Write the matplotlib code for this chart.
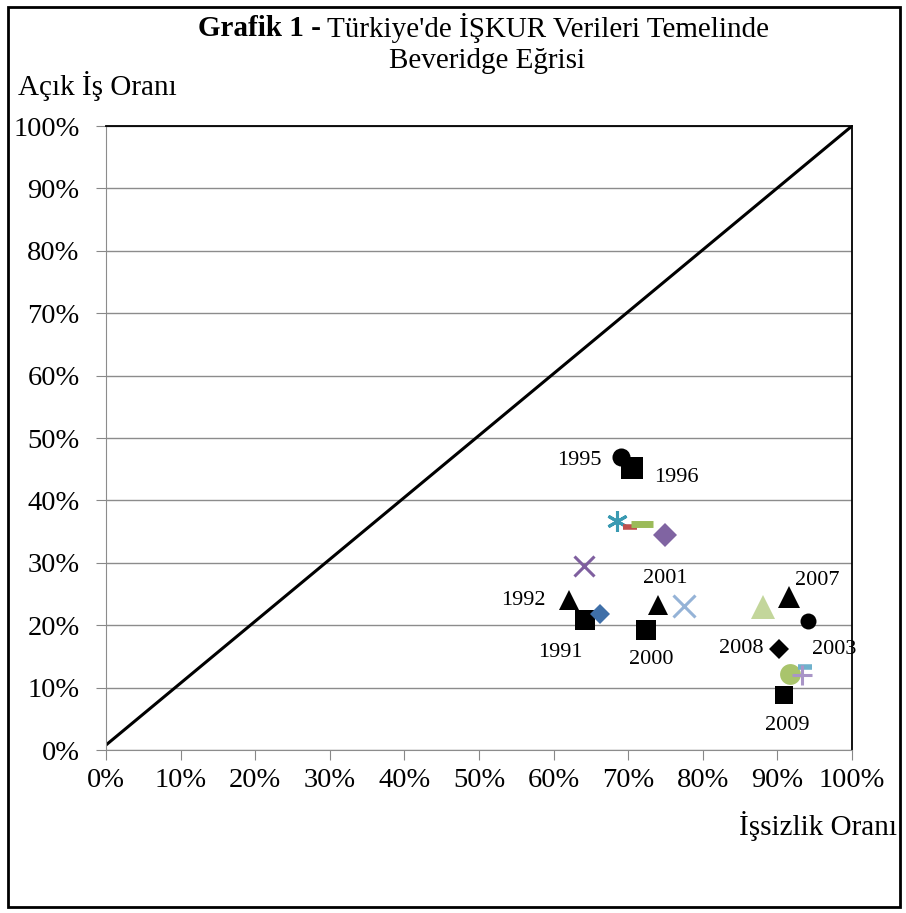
import matplotlib.pyplot as plt
from matplotlib.patches import Rectangle

plt.rcParams['font.family'] = ['Liberation Serif', 'DejaVu Serif']

# Data: unemployment rate (x, %), vacancy rate (y, %)
labels = ['1995', '1996', '', '', '', '', '', '1992', '1991', '', '2000', '2001',
          '', '', '2007', '2003', '2008', '', '', '', '2009']
unemp = [69.0, 70.5, 68.5, 70.2, 71.9, 74.9, 64.1, 62.1, 64.2, 66.2, 72.4, 74.0,
         77.5, 88.1, 91.6, 94.1, 90.2, 91.7, 93.7, 93.3, 90.9]
vacancy = [47.0, 45.2, 36.7, 35.8, 36.2, 34.5, 29.5, 24.0, 20.8, 21.8, 19.2, 23.2,
           23.1, 22.9, 24.5, 20.7, 16.2, 12.2, 13.3, 12.0, 8.8]

# marker style per point
markers = ['o', 's', (6, 2, 0), '_', '_', 'D', 'x', '^', 's', 'D', 's', '^',
           'x', '^', '^', 'o', 'D', 'o', '_', '+', 's']
colors = ['black', 'black', '#3A9AB2', '#C0504D', '#9BBB59', '#8064A2', '#7F5F9F',
          'black', 'black', '#3F6FA8', 'black', 'black', '#95B3D7', '#C3D69B',
          'black', 'black', 'black', '#A9C46C', '#6FB1CC', '#A995C7', 'black']
sizes = [13, 16, 15, 10, 16, 12, 14, 14, 14, 10.5, 14, 14, 16, 17, 16, 11.5, 10, 15, 10, 15, 13]
edge_w = [0, 0, 2.2, 4, 5, 0, 2.2, 0, 0, 0, 0, 0, 2.2, 0, 0, 0, 0, 0, 4, 2.2, 0]

# label offsets in points (dx, dy)
offsets = {'1995': (-30, -3), '1996': (32, -7), '1992': (-33, 0), '1991': (-18, -23),
           '2001': (5, 19), '2000': (4, -21), '2007': (20, 12), '2003': (19, -21),
           '2008': (-27, 0), '2009': (2, -22)}

fig = plt.figure(figsize=(9.06, 9.13), dpi=100)
ax = fig.add_axes([106 / 906, 163 / 913, 746 / 906, 624 / 913])

ax.plot([0, 100], [0.8, 100], color='black', lw=2.2, zorder=2)

for i in range(len(unemp)):
    filled = markers[i] not in ('x', '+', '_') and not isinstance(markers[i], tuple)
    ax.plot(unemp[i], vacancy[i], linestyle='none', marker=markers[i], markersize=sizes[i],
            color=colors[i], markeredgewidth=edge_w[i] if not filled else 0, zorder=3)
    if labels[i]:
        dx, dy = offsets[labels[i]]
        ax.annotate(labels[i], (unemp[i], vacancy[i]), xytext=(dx, dy), textcoords='offset points',
                    ha='center', va='center', fontsize=16)

ax.set_xlim(0, 100)
ax.set_ylim(0, 100)
ticks = list(range(0, 101, 10))
ax.set_xticks(ticks)
ax.set_yticks(ticks)
ax.set_xticklabels([f'{t}%' for t in ticks], fontsize=20.5)
ax.set_yticklabels([f'{t}%' for t in ticks], fontsize=20.5)
ax.tick_params(axis='y', direction='out', length=7, color='#888888', pad=12)
ax.tick_params(axis='x', direction='out', length=7, color='#888888', pad=6)
ax.grid(axis='y', color='#8c8c8c', lw=1)
ax.set_axisbelow(True)
for s in ['left', 'bottom']:
    ax.spines[s].set_color('#8c8c8c')
for s in ['top', 'right']:
    ax.spines[s].set_color('black')
    ax.spines[s].set_linewidth(1.3)

fig.text(198 / 906, 1 - 28 / 913, 'Grafik 1 -', fontsize=21, fontweight='bold', ha='left', va='center')
fig.text(327 / 906, 1 - 28 / 913, "Türkiye'de İŞKUR Verileri Temelinde", fontsize=21, ha='left', va='center')
fig.text(487 / 906, 1 - 61 / 913, 'Beveridge Eğrisi', fontsize=21, ha='center', va='center')
fig.text(18 / 906, 1 - 86 / 913, 'Açık İş Oranı', fontsize=21, ha='left', va='center')
fig.text(897 / 906, 1 - 826 / 913, 'İşsizlik Oranı', fontsize=21, ha='right', va='center')

fig.patches.append(Rectangle((8 / 906, 6 / 913), 892 / 906, 900 / 913, transform=fig.transFigure,
                             fill=False, edgecolor='black', lw=2))

plt.savefig('out.png', dpi=100)
plt.close()
